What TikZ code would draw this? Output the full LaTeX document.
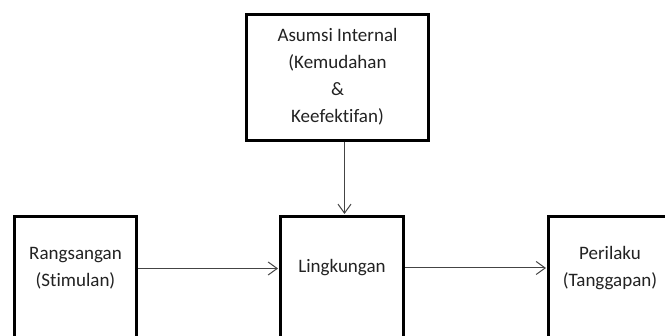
\documentclass[tikz,border=0pt]{standalone}
\usepackage{fontspec}
\setmainfont[Ligatures=NoCommon]{Carlito}
\usetikzlibrary{arrows.meta}
\definecolor{txt}{HTML}{222222}
\definecolor{arr}{HTML}{444444}
\begin{document}
\begin{tikzpicture}[x=1pt,y=-1pt,
  boxst/.style={draw=black, line width=3pt, fill=white, rectangle, inner sep=0pt},
  lbl/.style={text=txt, align=center, font=\fontsize{19}{27}\selectfont, inner sep=0pt},
  conn/.style={draw=arr, line width=1pt, -{Straight Barb[length=9pt,width=13pt,line width=1pt]}}]
\useasboundingbox (0,0) rectangle (665,336);
\clip (0,0) rectangle (665,336);
\fill[white] (0,0) rectangle (665,336);
% boxes
\node[boxst, minimum width=182pt, minimum height=126pt] (tbox) at (337.5,77.5) {};
\node[boxst, minimum width=122pt, minimum height=200pt, anchor=north] (lbox) at (75.5,215.5) {};
\node[boxst, minimum width=123pt, minimum height=200pt, anchor=north] (mbox) at (342,215.5) {};
\node[boxst, minimum width=123pt, minimum height=200pt, anchor=north] (rbox) at (610,215.5) {};
% texts
\node[lbl] (ttext) at (337.5,77) {Asumsi Internal\\(Kemudahan\\\&\\Keefektifan)};
\node[lbl] (ltext) at (75.5,268.5) {Rangsangan\\(Stimulan)};
\node[lbl] (mtext) at (342,268) {Lingkungan};
\node[lbl] (rtext) at (610,268.5) {Perilaku\\(Tanggapan)};
% connectors
\coordinate (mtop) at (344.5,214);
\draw[conn] (tbox.south -| mtop) -- (mtop);
\draw[conn] (lbox.east |- ltext.center) -- ([xshift=-1pt]mbox.west |- ltext.center);
\draw[conn] (mbox.east |- mtext.center) -- ([xshift=-1pt]rbox.west |- mtext.center);
\end{tikzpicture}
\end{document}
